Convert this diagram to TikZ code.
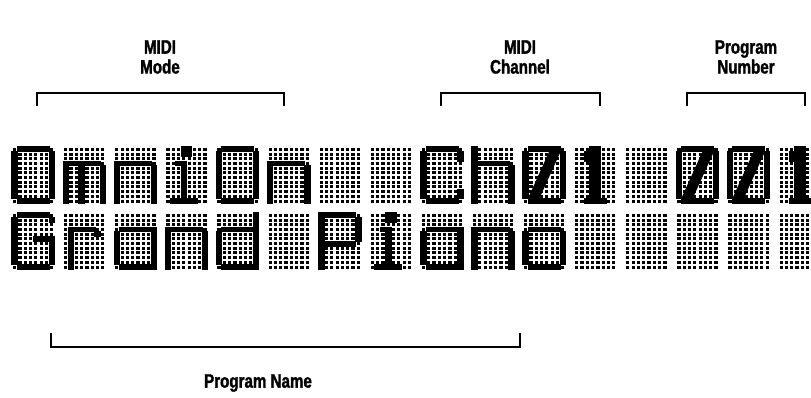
\documentclass[tikz,border=0pt]{standalone}
\usepackage{fontspec}
\setmainfont{Liberation Sans}
\newfontfamily\lblfont{Liberation Sans Bold}[FakeStretch=0.78,FakeBold=1.5]
\def\pw{5.3}
\def\ph{4.7}
% glyph bitmaps: c1/r1/c2/r2 rectangles of lit dots (8 cols x 12 rows)
\def\gO{1/0/6/0,0/1/0/10,7/1/7/10,1/11/6/11}
\def\gm{0/3/6/3,0/4/0/11,3/4/3/11,7/4/7/11}
\def\gn{0/3/6/3,0/4/0/11,7/4/7/11}
\def\gi{3/0/4/1,2/3/3/3,3/4/3/10,1/11/5/11}
\def\gC{1/0/6/0,0/1/0/10,1/11/6/11,7/1/7/2,7/9/7/10}
\def\gh{0/0/0/11,1/3/6/3,7/4/7/11}
\def\gone{3/0/4/11,2/1/2/2,2/11/5/11}
\def\gG{1/0/6/0,0/1/0/10,1/11/6/11,7/1/7/1,4/5/7/5,7/6/7/10}
\def\gr{1/3/1/11,2/3/5/3,6/4/6/4}
\def\ga{1/3/7/3,0/4/0/10,1/11/7/11,7/4/7/11}
\def\gd{7/0/7/11,1/3/6/3,0/4/0/10,1/11/6/11}
\def\gP{0/0/6/0,0/1/0/11,7/1/7/5,1/6/6/6}
\def\go{1/3/6/3,0/4/0/10,7/4/7/10,1/11/6/11}
\newcommand\lcddots[2]{%
  \pgfmathsetmacro\cx{12+51.1*#1}%
  \pgfmathsetmacro\cy{147+66*#2}%
  \begin{scope}[shift={(\cx,\cy)}]
    \foreach \i in {0,...,7}{\foreach \j in {0,...,11}{
      \fill[offdot] ({(\i+0.5)*\pw-1.6},{(\j+0.5)*\ph-1.5}) rectangle ++(3.2,3.0);}}
  \end{scope}}
\newcommand\lcdon[3]{%
  \pgfmathsetmacro\cx{12+51.1*#1}%
  \pgfmathsetmacro\cy{147+66*#2}%
  \begin{scope}[shift={(\cx,\cy)}]
    \foreach \a/\b/\c/\d in #3{
      \fill[ondot] ({\a*\pw-0.6},{\b*\ph-0.6}) rectangle ({(\c+1)*\pw+0.6},{(\d+1)*\ph+0.6});}
  \end{scope}}
\newcommand\lcdslash[2]{%
  \pgfmathsetmacro\cx{12+51.1*#1}%
  \pgfmathsetmacro\cy{147+66*#2}%
  \begin{scope}[shift={(\cx,\cy)}]
    \fill[ondot] (\pw,{11*\ph}) -- ({\pw+11},{11*\ph}) -- ({7*\pw},{\ph+1}) -- ({7*\pw},\ph) -- ({7*\pw-11},\ph) -- ({\pw},{11*\ph-1}) -- cycle;
  \end{scope}}
\begin{document}
\begin{tikzpicture}[x=1bp,y=-1bp,
  offdot/.style={fill=black},
  ondot/.style={fill=black},
  lbl/.style={font=\lblfont\fontsize{19.5}{20}\selectfont,align=center,inner sep=0pt},
  brk/.style={draw=black,line width=1.2pt,line cap=butt,line join=miter}]
\useasboundingbox (0,0) rectangle (811,397);
\fill[white] (0,0) rectangle (811,397);
% dot grids
\foreach \c in {0,...,15}{\foreach \r in {0,1}{\lcddots{\c}{\r}}}
% row 1: OmniOn  Ch01 001
\lcdon{0}{0}{\gO}
\lcdon{1}{0}{\gm}
\lcdon{2}{0}{\gn}
\lcdon{3}{0}{\gi}
\lcdon{4}{0}{\gO}
\lcdon{5}{0}{\gn}
\lcdon{8}{0}{\gC}
\lcdon{9}{0}{\gh}
\lcdon{10}{0}{\gO}\lcdslash{10}{0}
\lcdon{11}{0}{\gone}
\lcdon{13}{0}{\gO}\lcdslash{13}{0}
\lcdon{14}{0}{\gO}\lcdslash{14}{0}
\lcdon{15}{0}{\gone}
% row 2: Grand Piano
\lcdon{0}{1}{\gG}
\lcdon{1}{1}{\gr}
\lcdon{2}{1}{\ga}
\lcdon{3}{1}{\gn}
\lcdon{4}{1}{\gd}
\lcdon{6}{1}{\gP}
\lcdon{7}{1}{\gi}
\lcdon{8}{1}{\ga}
\lcdon{9}{1}{\gn}
\lcdon{10}{1}{\go}
% labels
\node[lbl] (mode) at (160,57) {MIDI\\Mode};
\node[lbl] (chan) at (520,57) {MIDI\\Channel};
\node[lbl] (prog) at (746,57) {Program\\Number};
\node[lbl] (pname) at (258,383) {Program Name};
% brackets
\coordinate (m1) at (37,106); \coordinate (m2) at (284,106);
\coordinate (c1) at (441,106); \coordinate (c2) at (600,106);
\coordinate (p1) at (687,106); \coordinate (p2) at (805,106);
\coordinate (n1) at (51,333); \coordinate (n2) at (520,333);
\draw[brk] (m1) -- ++(0,-13) -| (m2);
\draw[brk] (c1) -- ++(0,-13) -| (c2);
\draw[brk] (p1) -- ++(0,-13) -| (p2);
\draw[brk] (n1) -- ++(0,14) -| (n2);
\end{tikzpicture}
\end{document}
